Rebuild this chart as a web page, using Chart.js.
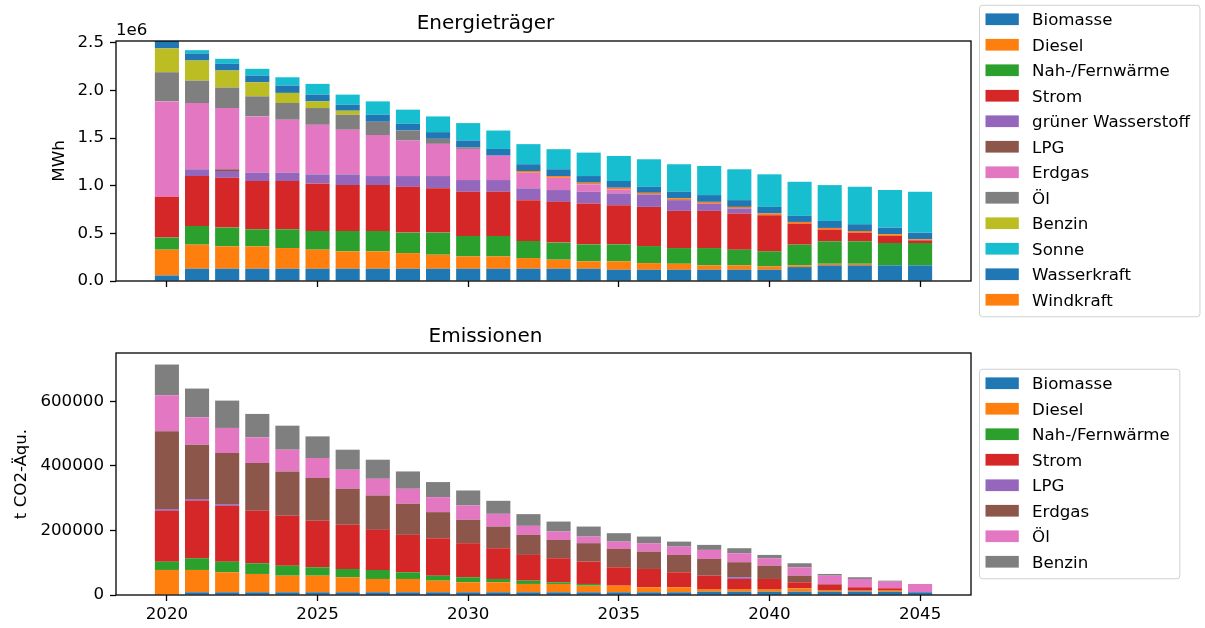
<!DOCTYPE html>
<html>
<head>
<meta charset="utf-8">
<script src="https://cdn.jsdelivr.net/npm/chart.js@4"></script>
<style>
	body { margin: 0; background: #fff; }
	.wrap { position: relative; width: 1205px; height: 628px; }
	canvas { position: absolute; left: 0; }
	#energie { top: 0; }
	#emission { top: 320px; }
</style>
</head>
<body>
<div class="wrap">
	<canvas id="energie" width="1205" height="320"></canvas>
	<canvas id="emission" width="1205" height="308"></canvas>
</div>
<script>
// Jahre und Achsen
const years = [2020,2021,2022,2023,2024,2025,2026,2027,2028,2029,2030,2031,2032,2033,2034,2035,2036,2037,2038,2039,2040,2041,2042,2043,2044,2045]
const xTicks = [2020,2025,2030,2035,2040,2045]
const energieTicks = [0,500000,1000000,1500000,2000000,2500000]
const emissionTicks = [0,200000,400000,600000]

// Energieträger (MWh)
const eBiomasse = [58000,129000,129000,129000,129000,129000,129000,129000,129000,129000,129000,129000,129000,129000,129000,118000,118000,118000,118000,118000,118000,146000,164000,164000,164000,164000]
const eDiesel = [271000,253000,235000,235000,217000,200000,182000,182000,164000,147000,129000,129000,112000,95000,77000,88000,70000,63000,46000,46000,35000,18000,17000,17000,0,0]
const eNahwaerme = [127000,196000,197000,179000,197000,196000,214000,214000,215000,232000,215000,215000,179000,179000,179000,179000,179000,165000,182000,165000,158000,218000,236000,236000,235000,235000]
const eStrom = [428000,524000,523000,507000,507000,500000,482000,482000,481000,465000,464000,464000,429000,428000,429000,411000,411000,390000,390000,380000,380000,221000,123000,91000,74000,28000]
const eWasserstoff = [0,71000,71000,87000,87000,95000,113000,95000,113000,129000,123000,123000,124000,124000,123000,124000,131000,113000,78000,53000,0,0,0,0,0,0]
const eLPG = [0,0,18000,0,0,0,0,0,0,0,0,0,0,0,0,0,0,0,0,0,0,0,0,0,0,0]
const eErdgas = [1002000,696000,643000,591000,556000,520000,468000,430000,373000,338000,327000,256000,164000,129000,78000,42000,0,0,0,0,0,0,0,0,0,0]
const eOel = [306000,235000,215000,211000,176000,176000,158000,140000,105000,53000,17000,0,0,0,0,0,0,0,0,0,0,0,0,0,0,0]
const eBenzin = [250000,211000,179000,148000,106000,70000,42000,0,0,0,0,0,0,0,0,0,0,0,0,0,0,0,0,0,0,0]
const eWindkraft = [0,0,0,0,0,0,0,0,0,0,0,0,18000,18000,17000,17000,17000,18000,17000,16000,18000,17000,17000,17000,18000,11000]
const eWasserkraft = [100000,74000,71000,70000,77000,71000,63000,74000,71000,70000,71000,71000,71000,71000,70000,71000,63000,70000,71000,71000,69000,64000,74000,71000,70000,70000]
const eSonne = [0,35000,52000,71000,87000,113000,106000,140000,148000,165000,183000,193000,211000,211000,246000,263000,289000,289000,306000,324000,342000,358000,376000,393000,394000,429000]

// Emissionen (t CO2-Äqu.)
const mBiomasse = [0,8400,8400,8400,8400,8400,8400,8400,8400,8400,8400,8400,8400,8400,8400,8400,8400,8400,10200,10200,10200,10200,10200,10200,10200,8400]
const mDiesel = [77600,69200,62100,56800,51500,51500,46600,41300,41300,36000,31000,31000,25800,25800,20500,20500,15500,15500,8400,8400,8400,10600,5300,3200,5300,0]
const mNahwaerme = [25800,36400,32900,33200,31100,26100,25700,27900,20800,15500,15600,10300,10200,5200,5300,0,0,0,0,0,0,0,0,0,0,0]
const mStrom = [157500,177900,173000,162500,154300,143800,136700,124300,115800,116200,105600,95300,79800,74600,69200,57100,56800,46600,41300,31100,31100,18600,16600,10500,5300,0]
const mLPG = [5200,5300,5300,0,0,0,0,0,0,0,0,0,0,0,0,0,0,0,0,5300,0,0,0,0,0,0]
const mErdgas = [241100,168600,158400,148100,137600,132600,111800,106500,96300,80700,72300,67100,62100,56800,57200,56900,53800,53700,51900,46600,41300,20500,2100,0,0,0]
const mOel = [111800,84800,77600,79500,67400,62100,59000,51800,46600,46600,44400,39500,28000,25800,20500,22600,26100,25800,28000,27900,23000,26100,25700,25800,20500,25800]
const mBenzin = [95300,89200,84800,72700,74500,67100,62100,59100,53700,46600,46600,40300,36300,31000,31000,26100,20500,15500,15500,15500,10200,12400,5300,5300,3100,0]

const energieLegend = ['Biomasse','Diesel','Nah-/Fernwärme','Strom','grüner Wasserstoff','LPG','Erdgas','Öl','Benzin','Sonne','Wasserkraft','Windkraft']
const energieColors = ['#1f77b4','#ff7f0e','#2ca02c','#d62728','#9467bd','#8c564b','#e377c2','#7f7f7f','#bcbd22','#17becf','#1f77b4','#ff7f0e']
const emissionLegend = ['Biomasse','Diesel','Nah-/Fernwärme','Strom','LPG','Erdgas','Öl','Benzin']
const emissionColors = ['#1f77b4','#ff7f0e','#2ca02c','#d62728','#9467bd','#8c564b','#e377c2','#7f7f7f']

const FONT = { family: 'DejaVu Sans', size: 16.67 }

function makeSet(label, values, color){
	return {
		label: label,
		data: years.map((y, i) => ({ x: y, y: values[i] })),
		backgroundColor: color,
		borderWidth: 0,
		barPercentage: 0.8,
		categoryPercentage: 1
	}
}

// Rahmen wie bei matplotlib
const axesFrame = {
	id: 'axesFrame',
	afterDatasetsDraw(chart, args, opts){
		const { ctx, chartArea: a } = chart
		ctx.save()
		ctx.strokeStyle = '#000'
		ctx.lineWidth = 1.3
		ctx.strokeRect(a.left, a.top, a.right - a.left, a.bottom - a.top)
		if (opts.offsetText) {
			ctx.fillStyle = '#000'
			ctx.font = FONT.size + 'px "DejaVu Sans"'
			ctx.textBaseline = 'alphabetic'
			ctx.fillText(opts.offsetText, a.left, a.top - 6)
		}
		ctx.restore()
	}
}

// Legende rechts neben der Achse
const sideLegend = {
	id: 'sideLegend',
	afterDraw(chart, args, opts){
		const { ctx, chartArea: a } = chart
		const n = opts.labels.length
		const h = 31 + (n - 1) * 25.5
		const left = a.right + 8.5
		const top = (a.top + a.bottom) / 2 - h / 2
		ctx.save()
		ctx.font = FONT.size + 'px "DejaVu Sans"'
		const textX = left + 6 + 33.3 + 13.3
		let maxW = 0
		opts.labels.forEach(l => { maxW = Math.max(maxW, ctx.measureText(l).width) })
		const w = textX - left + maxW + 10
		const r = 3
		ctx.beginPath()
		ctx.moveTo(left + r, top)
		ctx.arcTo(left + w, top, left + w, top + h, r)
		ctx.arcTo(left + w, top + h, left, top + h, r)
		ctx.arcTo(left, top + h, left, top, r)
		ctx.arcTo(left, top, left + w, top, r)
		ctx.closePath()
		ctx.fillStyle = 'rgba(255,255,255,0.8)'
		ctx.fill()
		ctx.strokeStyle = '#d0d0d0'
		ctx.lineWidth = 1
		ctx.stroke()
		ctx.textBaseline = 'alphabetic'
		opts.labels.forEach((l, i) => {
			const cy = top + 14 + i * 25.5
			ctx.fillStyle = opts.colors[i]
			ctx.fillRect(left + 6, cy - 5.85, 33.3, 11.7)
			ctx.fillStyle = '#000'
			ctx.fillText(l, textX, cy + 6.1)
		})
		ctx.restore()
	}
}

function getScales(yMax, yTicks, yTitle, titlePad, showX, xHeight, yFormat){
	const grid = { display: true, drawOnChartArea: false, drawTicks: true, tickLength: 6, tickWidth: 1.3, tickColor: '#000', offset: false }
	return {
		x: {
			type: 'linear',
			stacked: true,
			offset: false,
			min: 2018.31,
			max: 2046.69,
			afterBuildTicks: s => { s.ticks = xTicks.map(v => ({ value: v })) },
			grid: grid,
			border: { display: false },
			ticks: { display: showX, color: '#000', font: FONT, padding: 4, maxRotation: 0, autoSkip: false, callback: v => String(v) },
			afterFit: s => { s.height = xHeight }
		},
		y: {
			stacked: true,
			min: 0,
			max: yMax,
			afterBuildTicks: s => { s.ticks = yTicks.map(v => ({ value: v })) },
			grid: grid,
			border: { display: false },
			ticks: { color: '#000', font: FONT, padding: 6, callback: yFormat },
			title: { display: true, text: yTitle, color: '#000', font: FONT, padding: { top: titlePad, bottom: 0 } },
			afterFit: s => { s.width = 116 }
		}
	}
}

const configEnergie = {
	type: 'bar',
	data: {
		datasets: [
			makeSet('Biomasse', eBiomasse, energieColors[0]),
			makeSet('Diesel', eDiesel, energieColors[1]),
			makeSet('Nah-/Fernwärme', eNahwaerme, energieColors[2]),
			makeSet('Strom', eStrom, energieColors[3]),
			makeSet('grüner Wasserstoff', eWasserstoff, energieColors[4]),
			makeSet('LPG', eLPG, energieColors[5]),
			makeSet('Erdgas', eErdgas, energieColors[6]),
			makeSet('Öl', eOel, energieColors[7]),
			makeSet('Benzin', eBenzin, energieColors[8]),
			makeSet('Windkraft', eWindkraft, energieColors[11]),
			makeSet('Wasserkraft', eWasserkraft, energieColors[10]),
			makeSet('Sonne', eSonne, energieColors[9])
		]
	},
	options: {
		responsive: false,
		animation: false,
		events: [],
		layout: { padding: { left: 0, right: 234, top: 0, bottom: 0 } },
		scales: getScales(2520000, energieTicks, 'MWh', 50, false, 39, v => (v / 1e6).toFixed(1)),
		plugins: {
			legend: { display: false },
			tooltip: { enabled: false },
			title: { display: true, text: 'Energieträger', color: '#000', font: { family: 'DejaVu Sans', size: 20, weight: 'normal' }, padding: { top: 12, bottom: 5 } },
			axesFrame: { offsetText: '1e6' },
			sideLegend: { labels: energieLegend, colors: energieColors }
		}
	},
	plugins: [axesFrame, sideLegend]
}

const configEmission = {
	type: 'bar',
	data: {
		datasets: [
			makeSet('Biomasse', mBiomasse, emissionColors[0]),
			makeSet('Diesel', mDiesel, emissionColors[1]),
			makeSet('Nah-/Fernwärme', mNahwaerme, emissionColors[2]),
			makeSet('Strom', mStrom, emissionColors[3]),
			makeSet('LPG', mLPG, emissionColors[4]),
			makeSet('Erdgas', mErdgas, emissionColors[5]),
			makeSet('Öl', mOel, emissionColors[6]),
			makeSet('Benzin', mBenzin, emissionColors[7])
		]
	},
	options: {
		responsive: false,
		animation: false,
		events: [],
		layout: { padding: { left: 0, right: 234, top: 0, bottom: 0 } },
		scales: getScales(750000, emissionTicks, 't CO2-Äqu.', 12, true, 33, v => String(v)),
		plugins: {
			legend: { display: false },
			tooltip: { enabled: false },
			title: { display: true, text: 'Emissionen', color: '#000', font: { family: 'DejaVu Sans', size: 20, weight: 'normal' }, padding: { top: 5, bottom: 4 } },
			axesFrame: {},
			sideLegend: { labels: emissionLegend, colors: emissionColors }
		}
	},
	plugins: [axesFrame, sideLegend]
}

const energieChart = new Chart(document.getElementById('energie').getContext('2d'), configEnergie)
const emissionChart = new Chart(document.getElementById('emission').getContext('2d'), configEmission)
</script>
</body>
</html>
